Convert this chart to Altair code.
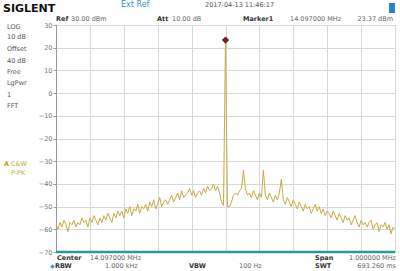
import altair as alt
import pandas as pd
import numpy as np

# ---- data ----
center_mhz = 14.097
span_mhz = 1.0
trace_db = [
    -58, -60, -57, -59, -56, -58, -61, -57, -58, -56, -59, -57,
    -58, -55, -57, -56, -59, -55, -57, -54, -56, -58,
    -55, -57, -54, -56, -53, -55, -57, -53, -55, -52,
    -54, -52, -55, -51, -53, -50, -54, -51, -52, -49, -53, -50, -51,
    -49, -52, -48, -50, -47, -51, -49, -46, -50, -48, -47, -49,
    -47, -45, -48, -46, -44, -47, -43, -46, -45, -44, -42, -45, -43, -46, -44,
    -43, -45, -42, -44, -41, -43, -42, -40, -43, -41, -44, -48,
    -49.5, 23.37, -50,
    -50, -48, -45, -44, -45, -43, -42, -34, -42, -45,
    -44, -46, -43, -45, -47, -44, -46,
    -34,
    -45, -47, -44, -46, -48, -45, -47, -44,
    -38,
    -47, -49, -46, -48, -50, -47, -49, -51, -48, -50, -52, -49,
    -51, -50, -53, -51, -49, -52, -50, -53, -51, -54, -52, -53, -55, -52, -54,
    -56, -53, -55, -57, -54, -56, -55, -58, -56, -54, -57, -59, -56, -58, -57,
    -59, -57, -56, -60, -58, -57, -61, -58, -59, -57, -60, -58, -62, -59, -60,
]
marker_freq = 14.097
marker_db = 23.37
y_ticks = [-70, -60, -50, -40, -30, -20, -10, 0, 10, 20, 30]

n = len(trace_db)
start = center_mhz - span_mhz / 2
stop = center_mhz + span_mhz / 2
freqs = np.linspace(start, stop, n)
df = pd.DataFrame({"f": freqs, "db": trace_db})
x_grid = [round(start + k * span_mhz / 10, 4) for k in range(11)]

FONT = "DejaVu Sans"
W, H = 339, 227

xs = alt.X("f:Q", scale=alt.Scale(domain=[start, stop], nice=False, zero=False),
           axis=alt.Axis(values=x_grid, labels=False, ticks=False, domain=False,
                         title=None, grid=True, gridColor="#d8d8d8"))
ys = alt.Y("db:Q", scale=alt.Scale(domain=[-70, 30], nice=False, zero=False),
           axis=alt.Axis(values=y_ticks, title=None, grid=True, gridColor="#d8d8d8",
                         tickSize=3, tickColor="#999", labelPadding=1,
                         labelFontSize=6.5, labelColor="#777", labelFont=FONT,
                         domainColor="#999", labelFlush=False, labelOverlap=False))

trace = alt.Chart(df).mark_line(color="#c8aa45", strokeWidth=1).encode(x=xs, y=ys)

base_rule = alt.Chart(pd.DataFrame({"db": [-70]})).mark_rule(
    color="#2a9a98", strokeWidth=2.5).encode(y=ys)

marker = alt.Chart(pd.DataFrame({"f": [marker_freq], "db": [marker_db]})).mark_point(
    shape="diamond", filled=True, color="#8b1a1a", stroke="#222", strokeWidth=0.8,
    size=40, opacity=1).encode(x=xs, y=ys)

one = pd.DataFrame({"a": [0]})


def label(txt, x_abs, y_abs, color="#666", size=6.5, bold=False, align="left"):
    return alt.Chart(one).mark_text(
        text=txt, font=FONT, fontSize=size, color=color,
        fontWeight="bold" if bold else "normal", align=align, baseline="middle"
    ).encode(x=alt.value(x_abs - 56), y=alt.value(y_abs - 25))


texts = [
    label("SIGLENT", 3, 9, color="#111", size=11, bold=True),
    label("Ext Ref", 121, 5, color="#3a8fd0", size=8),
    label("2017-04-13   11:46:17", 205, 5, color="#555"),
    label("Ref", 56, 19, color="#333", bold=True),
    label("30.00 dBm", 71, 19),
    label("Att", 157, 19, color="#333", bold=True),
    label("10.00 dB", 172, 19),
    label("Marker1", 243, 19, color="#333", bold=True),
    label("14.097000 MHz", 290, 19),
    label("23.37 dBm", 393, 19, align="right"),
    label("LOG", 7, 27, color="#555"),
    label("10 dB", 7, 37, color="#555"),
    label("Offset", 7, 49, color="#555"),
    label("40 dB", 7, 61, color="#555"),
    label("Free", 7, 72, color="#555"),
    label("LgPwr", 7, 83, color="#555"),
    label("1", 7, 95, color="#555"),
    label("FFT", 7, 106, color="#555"),
    label("A", 4, 164, color="#c8a020", bold=True),
    label("C&W", 11, 164, color="#c8aa45"),
    label("P-PK", 11, 173, color="#c8aa45"),
    label("Center", 57, 258, color="#333", bold=True),
    label("14.097000 MHz", 90, 258),
    label("\u25c6", 50, 266, color="#3a9ad0", size=6),
    label("RBW", 55, 266, color="#333", bold=True),
    label("1.000 kHz", 105, 266),
    label("VBW", 189, 266, color="#333", bold=True),
    label("100 Hz", 239, 266),
    label("Span", 315, 258, color="#333", bold=True),
    label("1.000000 MHz", 396, 258, align="right"),
    label("SWT", 315, 266, color="#333", bold=True),
    label("693.260 ms", 396, 266, align="right"),
]

battery = alt.Chart(one).mark_rect(color="#2a7fd0").encode(
    x=alt.value(389 - 56), x2=alt.value(395 - 56),
    y=alt.value(3 - 25), y2=alt.value(13 - 25))

chart = alt.layer(trace, base_rule, marker, battery, *texts).properties(
    width=W, height=H,
    autosize=alt.AutoSizeParams(type="none"),
    padding={"left": 56, "top": 25, "right": 5, "bottom": 19},
    background="white",
).configure_view(stroke="#a0a0a0", strokeWidth=1).configure_axisY(labelOverlap=False)

chart.save("out.html", embed_options={"renderer": "svg", "actions": False})
